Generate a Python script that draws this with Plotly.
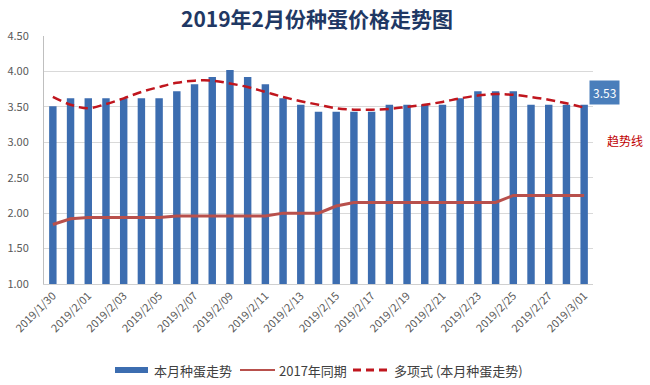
import plotly.graph_objects as go

dates = ["2019/1/30", "2019/1/31"] + [f"2019/2/{d:02d}" for d in range(1, 29)] + ["2019/3/01"]
this_month = [3.51, 3.62, 3.62, 3.62, 3.62, 3.62, 3.62, 3.72, 3.82, 3.92,
              4.02, 3.92, 3.82, 3.62, 3.53, 3.43, 3.43, 3.43, 3.43, 3.53,
              3.53, 3.53, 3.53, 3.62, 3.72, 3.72, 3.72, 3.53, 3.53, 3.53, 3.53]
same_2017 = [1.84, 1.92, 1.94, 1.94, 1.94, 1.94, 1.94, 1.96, 1.96, 1.96,
             1.96, 1.96, 1.96, 2.00, 2.00, 2.00, 2.10, 2.15, 2.15, 2.15,
             2.15, 2.15, 2.15, 2.15, 2.15, 2.15, 2.25, 2.25, 2.25, 2.25, 2.25]
trend = [3.64, 3.53, 3.48, 3.54, 3.62, 3.71, 3.78, 3.84, 3.87, 3.87,
         3.83, 3.78, 3.71, 3.64, 3.58, 3.53, 3.48, 3.46, 3.46, 3.47,
         3.50, 3.53, 3.57, 3.62, 3.66, 3.68, 3.67, 3.64, 3.60, 3.55, 3.49]
y_ticks = [1.00, 1.50, 2.00, 2.50, 3.00, 3.50, 4.00, 4.50]
series_names = ["本月种蛋走势", "2017年同期", "多项式 (本月种蛋走势)"]

idx = list(range(len(dates)))
tick_idx = idx[::2]
tick_text = [dates[i] for i in tick_idx]

FONT = "Noto Sans CJK SC"
BAR_C = "#3c6db0"
LINE_C = "#b8504c"
TREND_C = "#c0161e"

W, H = 650, 385
L, R, T, B = 44, 57, 36, 101
PW, PH = W - L - R, H - T - B


def px(x):
    return (x - L) / PW


def py(y):
    return (H - B - y) / PH


fig = go.Figure()
fig.add_trace(go.Bar(x=idx, y=[v - 1.0 for v in this_month], base=1.0, width=0.42,
                     marker=dict(color=BAR_C, line=dict(width=0)),
                     name=series_names[0], showlegend=False))
fig.add_trace(go.Scatter(x=idx, y=same_2017, mode="lines",
                         line=dict(color=LINE_C, width=3),
                         name=series_names[1], showlegend=False))
fig.add_trace(go.Scatter(x=idx, y=trend, mode="lines", line_shape="spline",
                         line=dict(color=TREND_C, width=2.5, dash="9px,5px"),
                         name=series_names[2], showlegend=False))

fig.update_layout(
    width=W, height=H,
    margin=dict(l=L, r=R, t=T, b=B),
    paper_bgcolor="white", plot_bgcolor="white",
    font=dict(family=FONT, color="#595959", size=11),
    title=dict(text="<b>2019年2月份种蛋价格走势图</b>", x=0.5 * (182 + 452) / W, xanchor="center",
               y=1 - 20 / H, yanchor="middle",
               font=dict(size=21, color="#1f3864", family=FONT)),
    showlegend=False,
)
fig.update_xaxes(range=[-0.5, 30.5], tickmode="array", tickvals=tick_idx, ticktext=tick_text,
                 tickangle=-45, showgrid=False, showline=True, linecolor="#d0d0d0",
                 ticks="", tickfont=dict(size=11, color="#595959"), zeroline=False,
                 automargin=False)
fig.update_yaxes(range=[1.0, 4.5], tickmode="array", tickvals=y_ticks,
                 ticktext=[f"{v:.2f}" for v in y_ticks],
                 showgrid=True, gridcolor="#d9d9d9", gridwidth=1,
                 showline=True, linecolor="#bfbfbf", ticks="", zeroline=False,
                 tickfont=dict(size=11, color="#595959"), automargin=False,
                 ticklabelstandoff=12)

# value label and trend-line note at the right
fig.add_annotation(xref="paper", yref="paper", x=px(604.5), y=py(92),
                   xanchor="center", yanchor="middle", text=f"{this_month[-1]:.2f}",
                   showarrow=False, bgcolor="#4a7ebb", font=dict(color="white", size=12, family=FONT),
                   borderpad=3)
fig.add_annotation(xref="paper", yref="paper", x=px(625), y=py(140),
                   xanchor="center", yanchor="middle", text="趋势线",
                   showarrow=False, font=dict(color="#c00000", size=12, family=FONT))

# manual legend
ly = py(370)
fig.add_shape(type="rect", xref="paper", yref="paper", x0=px(115), x1=px(148),
              y0=py(373), y1=py(367), fillcolor=BAR_C, line=dict(width=0))
fig.add_shape(type="line", xref="paper", yref="paper", x0=px(240), x1=px(275),
              y0=ly, y1=ly, line=dict(color=LINE_C, width=2))
fig.add_shape(type="line", xref="paper", yref="paper", x0=px(353), x1=px(388),
              y0=ly, y1=ly, line=dict(color=TREND_C, width=3, dash="8px,5px"))
for xpos, name in zip([152, 277, 392], series_names):
    fig.add_annotation(xref="paper", yref="paper", x=px(xpos), y=ly, xanchor="left",
                       yanchor="middle", text=name, showarrow=False,
                       font=dict(size=13, color="#404040", family=FONT))

fig.write_html("out.html", config={"displayModeBar": False},
               post_script="document.body.style.margin='0';")
